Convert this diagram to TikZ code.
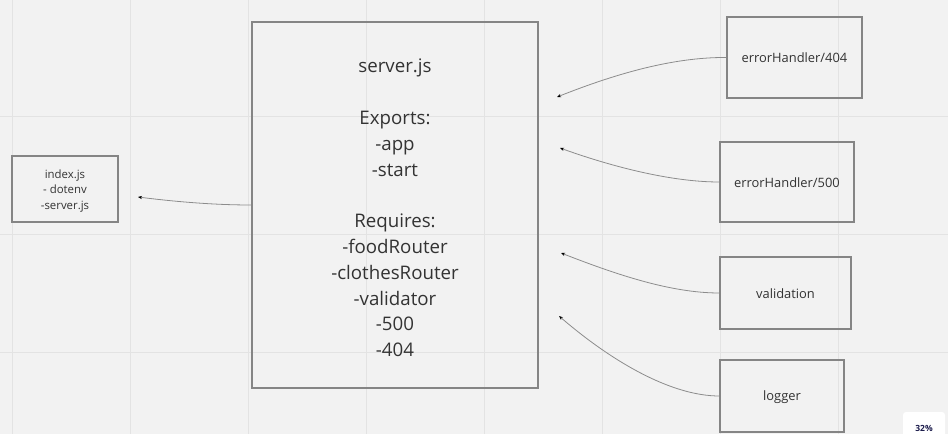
\documentclass[tikz,border=0pt]{standalone}
\usepackage{fontspec}
\setmainfont{Open Sans}
\usetikzlibrary{arrows.meta}
\definecolor{bg}{HTML}{F2F2F2}
\definecolor{gridc}{HTML}{E3E3E3}
\definecolor{boxc}{HTML}{858585}
\definecolor{txt}{HTML}{333333}
\definecolor{linkc}{HTML}{8C8C8C}
\definecolor{navy}{HTML}{1B1B4B}
\begin{document}
\begin{tikzpicture}[x=1pt,y=-1pt,
  box/.style={draw=boxc,line width=1.1pt,rectangle,inner sep=0pt},
  lbl/.style={text=txt,align=center,inner sep=0pt},
  small/.style={lbl,font=\fontsize{12.9}{17.8}\selectfont},
  link/.style={draw=linkc,line width=0.8pt,-{Stealth[length=4pt,width=3.2pt,black]}}]
\useasboundingbox (0,0) rectangle (948,434);
\fill[bg] (0,0) rectangle (948,434);
\foreach \x in {12,130,...,838} \draw[gridc,line width=0.9pt] (\x,0) -- (\x,434);
\foreach \y in {116,234,352} \draw[gridc,line width=0.9pt] (0,\y) -- (948,\y);

\node[box,minimum width=106pt,minimum height=66pt] (index) at (65,189) {};
\node[box,minimum width=286pt,minimum height=366pt] (server) at (395,205) {};
\node[box,minimum width=135pt,minimum height=81pt] (e404) at (794.5,57.5) {};
\node[box,minimum width=134pt,minimum height=80pt] (e500) at (787,182) {};
\node[box,minimum width=131pt,minimum height=72pt] (valid) at (785.5,293) {};
\node[box,minimum width=124pt,minimum height=72pt] (logger) at (782,396) {};

\node[lbl,font=\fontsize{11.4}{15.7}\selectfont] (indext) at ([yshift=-2pt]index.center) {index.js\\- dotenv\\-server.js};
\node[lbl,font=\fontsize{18.7}{25.8}\selectfont] (servert) at ([yshift=-3pt]server.center)
  {server.js\\[25.8pt]Exports:\\-app\\-start\\[25.8pt]Requires:\\-foodRouter\\-clothesRouter\\-validator\\-500\\-404};
\node[small] (e404t) at ([yshift=-0.5pt]e404.center) {errorHandler/404};
\node[small] (e500t) at ([yshift=-1pt]e500.center) {errorHandler/500};
\node[small] (validt) at ([yshift=-1pt]valid.center) {validation};
\node[small] (loggert) at ([yshift=-1.5pt]logger.center) {logger};

\coordinate (a1) at (138,197);
\coordinate (a2) at (557,97);
\coordinate (a3) at (560,148);
\coordinate (a4) at (561,253);
\coordinate (a5) at (559,316);

\draw[link] (server.west) .. controls (210,205) and (170,201) .. (a1);
\draw[link] (e404.west) .. controls (670,57) and (610,76) .. (a2);
\draw[link] (e500.west) .. controls (670,182) and (610,166) .. (a3);
\draw[link] (valid.west) .. controls (670,293) and (615,274) .. (a4);
\draw[link] (logger.west) .. controls (670,396) and (610,360) .. (a5);

\node[fill=white,rounded corners=3pt,minimum width=42pt,minimum height=30pt,inner sep=0pt] (badge) at (924,427) {};
\node[font=\fontsize{8.5}{10}\selectfont\bfseries,text=navy] (pct) at (924,428) {32\%};
\end{tikzpicture}
\end{document}
